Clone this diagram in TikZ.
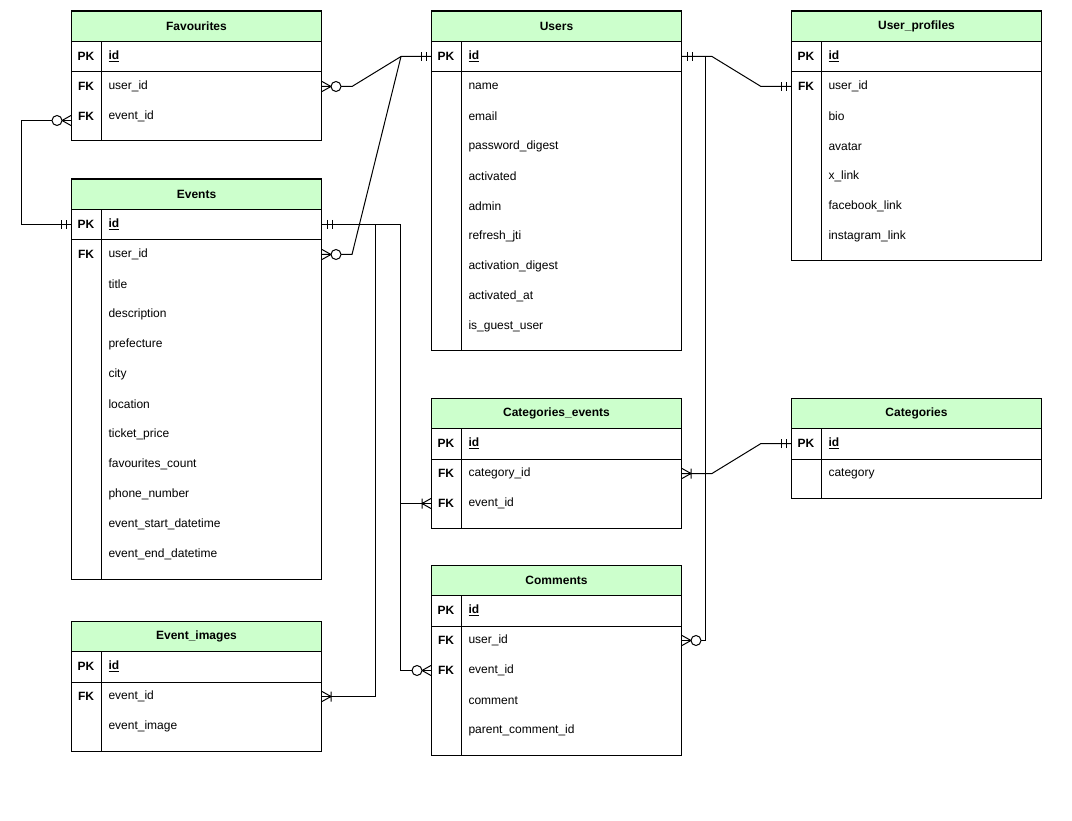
\documentclass[tikz,border=0pt]{standalone}
\usepackage{fontspec}
\setmainfont{Liberation Sans}
\usetikzlibrary{calc}

\definecolor{headgreen}{RGB}{204,255,204}
\newcommand{\erdfont}{\fontsize{12}{14}\selectfont}

\tikzset{
	erdhead/.style={draw, fill=headgreen, minimum width=250pt, minimum height=30pt, inner sep=0pt, font=\erdfont\bfseries},
	erdrow/.style={minimum width=250pt, minimum height=30pt, inner sep=0pt},
	keytext/.style={inner sep=0pt, font=\erdfont\bfseries},
	fieldtext/.style={anchor=west, inner sep=0pt, font=\erdfont},
	mandone/.pic={\draw (5,-4.5) -- (5,4.5) (10,-4.5) -- (10,4.5);},
	zeromany/.pic={\draw (0,-5) -- (9,0) -- (0,5); \draw[fill=white] (14,0) circle (5pt);},
	onemany/.pic={\draw (0,-5) -- (9,0) -- (0,5) (9,-5) -- (9,5);}
}

\newcommand{\erdtable}[5]{
	\pgfmathsetmacro{\ETx}{#2}
	\pgfmathsetmacro{\ETy}{#3}
	\node[erdrow, anchor=north west] (#1-0) at (\ETx, \ETy+30) {};
	\node[keytext] at ($(#1-0.west)+(15,0)$) {PK};
	\node[fieldtext, font=\erdfont\bfseries] at ($(#1-0.west)+(37,0)$) {\underline{id}};
	\foreach \k/\f [count=\i] in {#5} {
		\node[erdrow, anchor=north west] (#1-\i) at (\ETx, \ETy+30+30*\i) {};
		\node[keytext] at ($(#1-\i.west)+(15,0)$) {\k};
		\node[fieldtext] at ($(#1-\i.west)+(37,0)$) {\f};
		\xdef\ETn{\i}
	}
	\pgfmathsetmacro{\ETb}{\ETy+70+30*\ETn}
	\draw (\ETx, \ETy) rectangle (\ETx+250, \ETb);
	\draw (#1-0.south west) -- (#1-0.south east);
	\draw (\ETx+30, \ETy+30) -- (\ETx+30, \ETb);
	\node[erdhead, anchor=north west] (#1) at (\ETx, \ETy) {#4};
}

\begin{document}
\begin{tikzpicture}[x=1pt, y=-1pt, line width=1pt]
\useasboundingbox (0,0) rectangle (1072,821);

\erdtable{fav}{71}{11}{Favourites}{FK/user\_id, FK/event\_id}
\erdtable{users}{431}{11}{Users}{/name, /email, /password\_digest, /activated, /admin, /refresh\_jti, /activation\_digest, /activated\_at, /is\_guest\_user}
\erdtable{prof}{791}{11}{User\_profiles}{FK/user\_id, /bio, /avatar, /x\_link, /facebook\_link, /instagram\_link}
\erdtable{events}{71}{179}{Events}{FK/user\_id, /title, /description, /prefecture, /city, /location, /ticket\_price, /favourites\_count, /phone\_number, /event\_start\_datetime, /event\_end\_datetime}
\erdtable{catev}{431}{398}{Categories\_events}{FK/category\_id, FK/event\_id}
\erdtable{cats}{791}{398}{Categories}{/category}
\erdtable{comments}{431}{565}{Comments}{FK/user\_id, FK/event\_id, /comment, /parent\_comment\_id}
\erdtable{images}{71}{621}{Event\_images}{FK/event\_id, /event\_image}

\coordinate (favlink) at ([yshift=-4pt]fav-2.west);

\draw (fav-1.east) -- ++(30,0) -- ([xshift=-30pt]users-0.west) -- (users-0.west);
\draw (events-1.east) -- ++(30,0) -- ([xshift=-30pt]users-0.west);
\draw (events-0.west) -- ++(-50,0) |- (favlink);
\draw (users-0.east) -- ++(30,0) -- ([xshift=-30pt]prof-1.west) -- (prof-1.west);
\draw ([xshift=23pt]users-0.east) |- (comments-1.east);
\draw (events-0.east) -- ++(78,0) |- (catev-2.west);
\draw ([xshift=78pt]events-0.east) |- (comments-2.west);
\draw ([xshift=53pt]events-0.east) |- (images-1.east);
\draw (cats-0.west) -- ++(-30,0) -- ([xshift=30pt]catev-1.east) -- (catev-1.east);

\pic at (fav-1.east) {zeromany};
\pic[rotate=180] at (users-0.west) {mandone};
\pic at (events-1.east) {zeromany};
\pic[rotate=180] at (events-0.west) {mandone};
\pic[rotate=180] at (favlink) {zeromany};
\pic at (users-0.east) {mandone};
\pic[rotate=180] at (prof-1.west) {mandone};
\pic at (comments-1.east) {zeromany};
\pic at (events-0.east) {mandone};
\pic[rotate=180] at (catev-2.west) {onemany};
\pic[rotate=180] at (comments-2.west) {zeromany};
\pic at (images-1.east) {onemany};
\pic[rotate=180] at (cats-0.west) {mandone};
\pic at (catev-1.east) {onemany};
\end{tikzpicture}
\end{document}
